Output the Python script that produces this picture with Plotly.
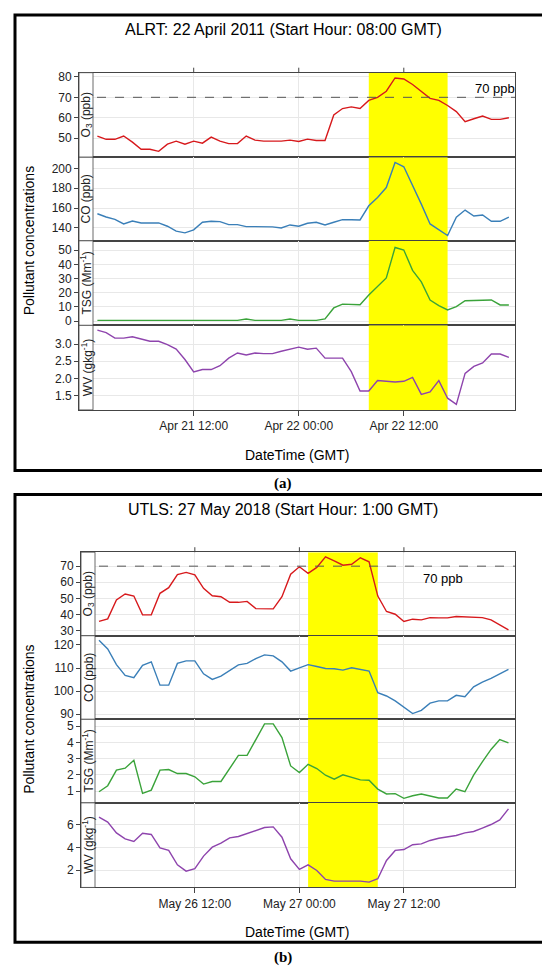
import plotly.graph_objects as go
import pandas as pd

W, H = 550, 967
def px(x): return x / W
def py(y): return 1 - y / H

# ---------------- data (a) ----------------
a_start = "2011-04-21 01:00"
a_o3 = [51,49.4,49.4,51,48,44.5,44.5,43.5,47,48.5,47,48.5,47.5,50.5,48.5,47.3,47.3,51,49,48.5,48.5,48.5,49,48.3,
        49.5,48.8,48.8,61.3,64.5,65.3,64.5,68.5,70,73,79.5,79,76.3,73,69.5,68.5,66,63,58,59.5,60.8,59.2,59.2,60]
a_co = [154.3,151,148.7,144,147,145,145,145,141.7,136.7,135,138,145.7,146.7,146.3,143.3,143.3,141.3,141.3,141.3,141,140,143,141.7,
        144.7,145.7,143,145.7,148.3,148.3,148,162.3,170.7,180.7,206,201.7,183.3,164,144,138.3,132.3,150.7,158,152,153,146.7,146.7,151]
a_tsg = [0.5]*17 + [1.5,0.5,0.5,0.5,0.5,1.5,0.5,0.5,0.5,1.6,9.3,12,12,11.5,18.4,24.2,30.5,52,50.2,35.8,27.7,14.9,11,7.9,10.2,14.4,14.4,14.9,14.9,11.4,11.4]
a_wv = [3.40,3.33,3.17,3.17,3.21,3.15,3.08,3.08,2.98,2.85,2.55,2.19,2.26,2.26,2.37,2.59,2.74,2.68,2.74,2.72,2.72,2.79,2.84,2.91,
        2.85,2.88,2.59,2.59,2.59,2.2,1.64,1.64,1.94,1.92,1.9,1.92,2.03,1.54,1.61,1.94,1.43,1.25,2.15,2.35,2.45,2.71,2.71,2.61]
a_span = ["2011-04-22 08:00", "2011-04-22 17:00"]
a_ticks = ["2011-04-21 12:00", "2011-04-22 00:00", "2011-04-22 12:00"]
a_xrange = ["2011-04-20 22:54", "2011-04-23 00:42"]

# ---------------- data (b) ----------------
b_start = "2018-05-26 01:00"
b_o3 = [35.6,37.2,49,52.7,51.4,39.7,39.7,53.1,56.6,64.8,66.1,64.6,56.2,51.6,51,47.5,47.5,48.1,43.6,43.4,43.4,51,65,69.6,
        65.5,69.2,75.8,73.3,70.6,71.2,75.2,72.7,51.4,41.8,40.1,35.6,37,36.6,38,37.8,37.8,38.7,38.5,38,38,36.6,33.5,30.4]
b_co = [122,118.3,111.5,106.8,105.8,111.2,112.7,102.6,102.6,112,113.1,113.1,107.5,105.1,106.5,109,111.4,112,114.1,115.7,115.3,112.7,108.7,110.1,
        111.5,110.7,109.8,109.7,109.1,110.1,109.4,108.7,99.3,97.9,95.8,92.9,90.3,91.7,94.8,95.8,95.8,98.2,97.6,101.9,103.9,105.5,107.5,109.4]
b_tsg = [0.96,1.33,2.29,2.41,2.9,0.86,1.06,2.29,2.33,2.08,2.08,1.88,1.43,1.59,1.59,2.41,3.2,3.2,4.2,5.15,5.15,4.3,2.55,2.14,
         2.65,2.39,1.98,1.73,2,1.84,1.69,1.67,1.12,0.82,0.84,0.55,0.71,0.82,0.71,0.57,0.57,1.12,0.96,1.98,2.8,3.57,4.18,3.98]
b_wv = [6.68,6.24,5.29,4.76,4.53,5.26,5.15,3.97,3.74,2.47,1.91,2.12,3.24,4.03,4.38,4.85,4.97,5.21,5.47,5.76,5.82,4.91,3,2.06,
        2.47,1.97,1.18,1.03,1.03,1.03,1.03,0.94,1.24,2.85,3.74,3.82,4.24,4.32,4.62,4.82,4.97,5.06,5.29,5.41,5.71,6.03,6.44,7.41]
b_span = ["2018-05-27 01:00", "2018-05-27 09:00"]
b_ticks = ["2018-05-26 12:00", "2018-05-27 00:00", "2018-05-27 12:00"]
b_xrange = ["2018-05-25 22:56", "2018-05-28 00:45"]

labels = ["O<sub>3</sub> (ppb)", "CO (ppb)", "TSG (Mm<sup>-1</sup>)", "WV (gkg<sup>-1</sup>)"]
colors = ["#d7191c", "#3a7fb8", "#3aa33a", "#8e44ad"]

panels = [
    dict(start=a_start, series=[a_o3, a_co, a_tsg, a_wv], span=a_span, ticks=a_ticks, xr=a_xrange,
         yr=[[40.6, 82.1], [127, 211.3], [-3, 56.7], [1.09, 3.54]],
         ytv=[[50, 60, 70, 80], [140, 160, 180, 200], [0, 10, 20, 30, 40, 50], [1.5, 2.0, 2.5, 3.0]],
         ytt=[None, None, None, ["1.5", "2.0", "2.5", "3.0"]],
         edges=[63, 148, 232, 317, 402], box=[7, 5, 543, 463], title="ALRT: 22 April 2011 (Start Hour: 08:00 GMT)",
         ty=20, xty=447, cap="(a)", capy=476, lab70=(465, 79), xl=71),
    dict(start=b_start, series=[b_o3, b_co, b_tsg, b_wv], span=b_span, ticks=b_ticks, xr=b_xrange,
         yr=[[26.7, 78.7], [87.8, 124], [0.27, 5.43], [0.47, 7.94]],
         ytv=[[30, 40, 50, 60, 70], [90, 100, 110, 120], [1, 2, 3, 4, 5], [2, 4, 6]],
         ytt=[None, None, None, None],
         edges=[545, 629, 713, 797, 882], box=[7, 487, 543, 937], title="UTLS: 27 May 2018 (Start Hour: 1:00 GMT)",
         ty=502, xty=927, cap="(b)", capy=952, lab70=(413, 571), xl=73),
]

fig = go.Figure()
shapes, annos = [], []
n = 0
font = "Liberation Sans, Arial, sans-serif"
for p in panels:
    times = pd.date_range(p["start"], periods=len(p["series"][0]), freq="h")
    x0, x1 = p["xl"], 507
    for k in range(4):
        n += 1
        xa = "x" if n == 1 else f"x{n}"
        ya = "y" if n == 1 else f"y{n}"
        lo, hi = p["yr"][k]
        s0, s1 = p["span"]
        fig.add_trace(go.Scatter(x=[s0, s0, s1, s1, s0], y=[lo, hi, hi, lo, lo], mode="lines", fill="toself",
                                 fillcolor="#ffff00", line=dict(width=0), xaxis=xa, yaxis=ya,
                                 showlegend=False, hoverinfo="skip"))
        fig.add_trace(go.Scatter(x=times, y=p["series"][k], mode="lines", line=dict(color=colors[k], width=1.4),
                                 xaxis=xa, yaxis=ya, showlegend=False, hoverinfo="skip"))
        top, bot = p["edges"][k], p["edges"][k + 1]
        last = k == 3
        fig.update_layout(**{
            ("xaxis" if n == 1 else f"xaxis{n}"): dict(
                domain=[px(x0), px(x1)], anchor=ya, range=p["xr"], type="date",
                tickvals=p["ticks"], tickformat="%b %d %H:%M", showticklabels=last,
                ticks="outside" if last else "", ticklen=5, tickcolor="#444",
                showgrid=True, gridcolor="#e8e8e8", showline=True, linecolor="#444", linewidth=0.8, mirror=True,
                tickfont=dict(family=font, size=12, color="#222"), zeroline=False),
            ("yaxis" if n == 1 else f"yaxis{n}"): dict(
                domain=[py(bot), py(top)], anchor=xa, range=p["yr"][k], tickvals=p["ytv"][k],
                ticktext=p["ytt"][k], ticks="outside", ticklen=4, tickcolor="#444",
                showgrid=True, gridcolor="#e8e8e8", showline=True, linecolor="#444", linewidth=0.8, mirror=True,
                tickfont=dict(family=font, size=12, color="#222"), zeroline=False),
        })
        if k == 0:
            shapes.append(dict(type="line", xref=xa, yref=ya, x0=p["xr"][0], x1=p["xr"][1], y0=70, y1=70,
                               line=dict(color="#555", width=1, dash="dash"), layer="above"))
            for t in p["ticks"]:
                shapes.append(dict(type="line", xref=xa, yref="paper", x0=t, x1=t, y0=py(top), y1=py(top - 5),
                                   line=dict(color="#444", width=1)))
        shapes.append(dict(type="rect", xref="paper", yref="paper", x0=px(x0), x1=px(x0 + 14),
                           y0=py(bot), y1=py(top), fillcolor="white", line=dict(color="#444", width=0.8), layer="above"))
        annos.append(dict(text=labels[k], x=px(x0 + 7.5), y=py((top + bot) / 2), xref="paper", yref="paper",
                          xanchor="center", yanchor="middle",
                          textangle=-90, showarrow=False, font=dict(family=font, size=12, color="#222")))
    bx = p["box"]
    shapes.append(dict(type="rect", xref="paper", yref="paper", x0=px(bx[0]), x1=px(bx[2]), y0=py(bx[3]), y1=py(bx[1]),
                       line=dict(color="black", width=3)))
    annos += [
        dict(text=p["title"], x=0.5, y=py(p["ty"]), xref="paper", yref="paper", showarrow=False,
             xanchor="center", yanchor="middle", font=dict(family=font, size=16, color="black")),
        dict(text="Pollutant concentrations", x=px(21), y=py((p["edges"][0] + p["edges"][4]) / 2), xref="paper",
             yref="paper", xanchor="center", yanchor="middle", textangle=-90, showarrow=False,
             font=dict(family=font, size=14, color="black")),
        dict(text="DateTime (GMT)", x=px((71 + 507) / 2), y=py(p["xty"]), xref="paper", yref="paper",
             xanchor="center", yanchor="middle", showarrow=False, font=dict(family=font, size=14, color="black")),
        dict(text="<b>" + p["cap"] + "</b>", x=0.5, y=py(p["capy"]), xref="paper", yref="paper", showarrow=False,
             xanchor="center", yanchor="middle",
             font=dict(family="Liberation Serif, Times New Roman, serif", size=15, color="black")),
        dict(text="70 ppb", x=px(p["lab70"][0]), y=py(p["lab70"][1]), xref="paper", yref="paper", showarrow=False,
             xanchor="left", yanchor="middle", font=dict(family=font, size=13, color="black")),
    ]

fig.update_layout(width=W, height=H, margin=dict(l=0, r=0, t=0, b=0), plot_bgcolor="white",
                  paper_bgcolor="white", shapes=shapes, annotations=annos)
fig.write_html("out.html")
